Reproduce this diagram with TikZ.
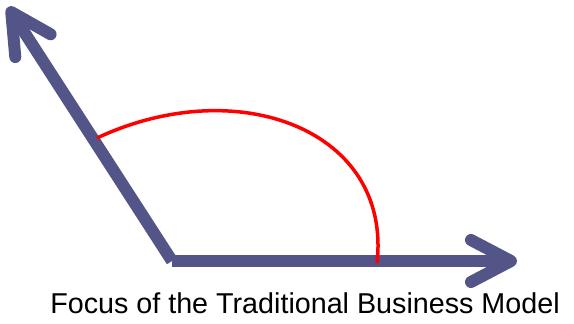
\documentclass[tikz,border=0pt]{standalone}
\usepackage{fontspec}
\setmainfont{Liberation Sans}
\usetikzlibrary{arrows.meta}
\definecolor{slate}{RGB}{83,84,136}
\tikzset{
  axis/.style={slate, line width=12pt, line cap=butt,
    -{Straight Barb[length=40pt, width=42pt, round]}},
  focus/.style={red, line width=3.5pt},
}
\begin{document}
\begin{tikzpicture}[x=1pt, y=-1pt]
\useasboundingbox (0,0) rectangle (574,324);
% define points
\coordinate (O) at (172,261);
\coordinate (tipL) at (8,7);
\coordinate (tipR) at (517,261);
\coordinate (arcA) at (97,138);
\coordinate (arcB) at (377,263);

% draw the two axes
\draw[axis] (O) -- (tipL);
\draw[axis] (O) -- (tipR);

% the focus arc
\draw[focus] (arcA) .. controls (238,72) and (392,130) .. (arcB);

% text
\node[anchor=base, font=\fontsize{28.7}{34}\selectfont] (caption) at (305,313.5) {Focus of the Traditional Business Model};
\end{tikzpicture}
\end{document}
